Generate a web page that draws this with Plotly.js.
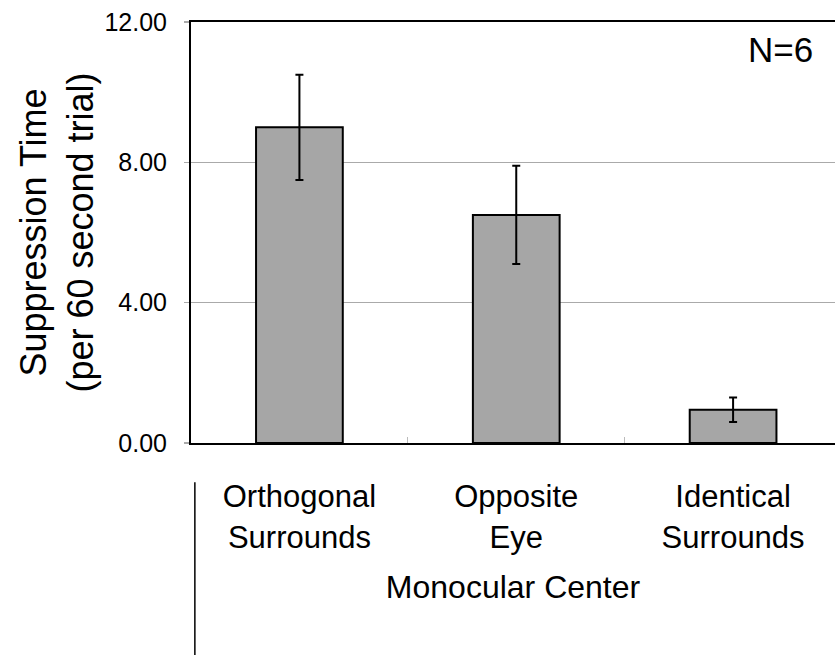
<!DOCTYPE html>
<html>
<head>
<meta charset="utf-8">
<script src="https://cdn.plot.ly/plotly-3.0.1.min.js"></script>
<style>html,body{margin:0;padding:0;background:#fff;}#chart{width:835px;height:655px;}</style>
</head>
<body>
<div id="chart"></div>
<script>
const categories = ["Orthogonal<br>Surrounds", "Opposite<br>Eye", "Identical<br>Surrounds"];
const suppressionTime = [9.0, 6.5, 0.95];
const errorValues = [1.5, 1.4, 0.35];
const yTickValues = [0, 4, 8, 12];
const xTitle = "Monocular Center";
const yTitle = "Suppression Time<br>(per 60 second trial)";
const noteText = "N=6";

const font = "Liberation Sans, Arial, Helvetica, sans-serif";

const trace = {
  type: "bar",
  x: categories,
  y: suppressionTime,
  width: 0.4,
  marker: {color: "#a6a6a6", line: {color: "#000", width: 2}},
  error_y: {type: "data", array: errorValues, visible: true, color: "#000", thickness: 2, width: 4},
  hoverinfo: "x+y"
};

const layout = {
  width: 835, height: 655,
  margin: {l: 191, r: 0, t: 22, b: 212},
  paper_bgcolor: "#fff", plot_bgcolor: "#fff",
  showlegend: false,
  font: {family: font, color: "#000"},
  xaxis: {
    type: "category",
    range: [-0.5, 2.47],
    showline: true, linecolor: "#000", linewidth: 2, mirror: true,
    showgrid: false, zeroline: false,
    ticks: "inside", tickson: "boundaries", ticklen: 6, tickcolor: "#bbb", tickwidth: 1,
    tickfont: {size: 31, family: font, color: "#000"},
    ticklabelstandoff: 25,
    title: {text: xTitle, font: {size: 32, family: font, color: "#000"}, standoff: 22}
  },
  yaxis: {
    range: [0, 12],
    tickvals: yTickValues,
    tickformat: ".2f",
    showline: true, linecolor: "#000", linewidth: 2, mirror: false,
    showgrid: true, gridcolor: "#aaa", gridwidth: 1.5,
    zeroline: false,
    ticks: "outside", ticklen: 5, tickcolor: "#aaa", tickwidth: 1.5,
    tickfont: {size: 25, family: font, color: "#000"},
    ticklabelstandoff: 12,
    title: {text: yTitle, font: {size: 36, family: font, color: "#000"}, standoff: 0}
  },
  annotations: [{
    text: noteText, xref: "paper", yref: "paper", x: 0.915, y: 0.935,
    xanchor: "center", yanchor: "middle", showarrow: false,
    font: {size: 35, family: font, color: "#000"}
  }],
  shapes: [{
    type: "line", xref: "paper", yref: "paper",
    x0: 0.006, x1: 0.006, y0: -0.093, y1: -0.52,
    line: {color: "#000", width: 1.5}
  }]
};

Plotly.newPlot("chart", [trace], layout, {staticPlot: true, displayModeBar: false});
</script>
</body>
</html>
